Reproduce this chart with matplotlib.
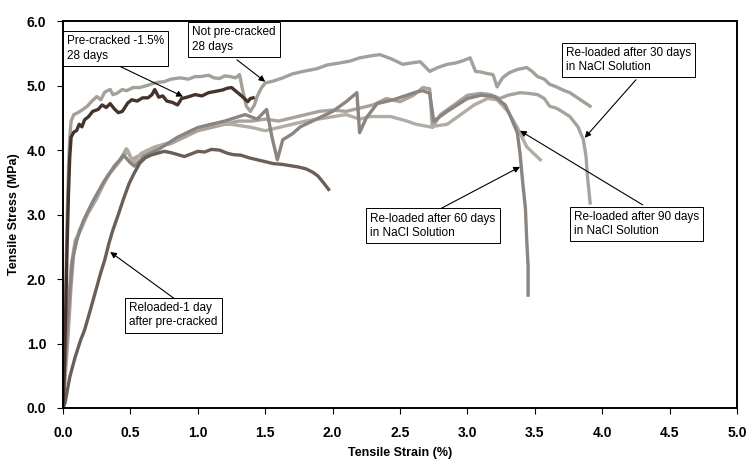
import matplotlib
matplotlib.use("Agg")
import matplotlib.pyplot as plt

plt.rcParams["font.family"] = ["Liberation Sans", "DejaVu Sans"]

# Pre-cracked to 1.5 %, tested at 28 days
pre_x = [0, 0.01, 0.02, 0.03, 0.04, 0.05, 0.06, 0.08, 0.10, 0.12, 0.14, 0.16, 0.19, 0.22, 0.26,
         0.29, 0.32, 0.35, 0.38, 0.41, 0.44, 0.48, 0.51, 0.55, 0.59, 0.63, 0.66, 0.68, 0.71, 0.74,
         0.77, 0.81, 0.85, 0.88, 0.92, 0.98, 1.03, 1.08, 1.13, 1.18, 1.22, 1.25, 1.29, 1.33,
         1.35, 1.37, 1.39, 1.41]
pre_y = [0, 0.6, 1.5, 2.5, 3.3, 3.9, 4.2, 4.28, 4.30, 4.40, 4.36, 4.47, 4.52, 4.60, 4.63,
         4.70, 4.66, 4.72, 4.64, 4.58, 4.60, 4.73, 4.78, 4.76, 4.81, 4.81, 4.86, 4.94, 4.82, 4.84,
         4.76, 4.74, 4.70, 4.80, 4.82, 4.86, 4.84, 4.89, 4.91, 4.93, 4.96, 4.97, 4.90, 4.83,
         4.79, 4.75, 4.80, 4.81]

# Not pre-cracked, 28 days
ncr_x = [0, 0.01, 0.02, 0.03, 0.04, 0.05, 0.06, 0.08, 0.11, 0.14, 0.18, 0.21, 0.25, 0.28, 0.31,
         0.35, 0.37, 0.40, 0.44, 0.47, 0.52, 0.57, 0.62, 0.65, 0.70, 0.75, 0.80, 0.87, 0.93, 0.98,
         1.02, 1.08, 1.12, 1.16, 1.20, 1.24, 1.28, 1.31, 1.33, 1.36, 1.39, 1.42, 1.44, 1.47, 1.50,
         1.56, 1.63, 1.70, 1.78, 1.88, 1.96, 2.05, 2.13, 2.20, 2.28, 2.35, 2.43, 2.52, 2.58, 2.65,
         2.72, 2.78, 2.85, 2.91, 2.96, 3.02, 3.06, 3.10, 3.14, 3.19, 3.22, 3.26, 3.31, 3.37, 3.44,
         3.48, 3.52, 3.57, 3.61, 3.66, 3.71, 3.76, 3.81, 3.86, 3.91]
ncr_y = [0, 0.8, 1.9, 2.9, 3.7, 4.2, 4.45, 4.55, 4.58, 4.62, 4.68, 4.75, 4.83, 4.78, 4.90,
         4.94, 4.86, 4.88, 4.94, 4.92, 4.97, 4.97, 5.00, 5.02, 5.05, 5.06, 5.10, 5.12, 5.10, 5.14,
         5.14, 5.16, 5.12, 5.11, 5.15, 5.14, 5.12, 5.17, 4.95, 4.68, 4.60, 4.70, 4.83, 4.96, 5.04,
         5.07, 5.12, 5.18, 5.22, 5.26, 5.32, 5.35, 5.38, 5.43, 5.46, 5.48, 5.42, 5.33, 5.35, 5.37,
         5.22, 5.28, 5.33, 5.35, 5.38, 5.43, 5.22, 5.21, 5.19, 5.17, 4.98, 5.12, 5.20, 5.25, 5.28,
         5.22, 5.14, 5.10, 5.02, 4.98, 4.93, 4.89, 4.82, 4.75, 4.68]

# Re-loaded 1 day after pre-cracking
d1_x = [0, 0.015, 0.05, 0.09, 0.13, 0.16, 0.20, 0.24, 0.28, 0.31, 0.34, 0.37, 0.41, 0.45, 0.49,
        0.53, 0.57, 0.61, 0.65, 0.70, 0.75, 0.80, 0.85, 0.90, 0.95, 1.00, 1.05, 1.10, 1.16, 1.22,
        1.26, 1.32, 1.38, 1.44, 1.50, 1.56, 1.62, 1.68, 1.74, 1.80, 1.85, 1.89, 1.93, 1.97]
d1_y = [0, 0.08, 0.48, 0.79, 1.05, 1.21, 1.50, 1.80, 2.10, 2.30, 2.55, 2.76, 3.00, 3.25, 3.48,
        3.65, 3.80, 3.88, 3.92, 3.95, 3.98, 3.96, 3.93, 3.90, 3.94, 3.98, 3.97, 4.01, 4.00, 3.95,
        3.93, 3.92, 3.88, 3.85, 3.82, 3.79, 3.78, 3.76, 3.74, 3.71, 3.66, 3.60, 3.50, 3.39]

# Re-loaded after 30 days in NaCl solution
d30_x = [0, 0.02, 0.04, 0.06, 0.08, 0.12, 0.18, 0.25, 0.33, 0.41, 0.47, 0.51, 0.55, 0.62, 0.70,
         0.80, 0.90, 1.00, 1.10, 1.20, 1.30, 1.40, 1.50, 1.60, 1.70, 1.80, 1.90, 2.00, 2.10, 2.20,
         2.30, 2.40, 2.50, 2.60, 2.67, 2.72, 2.74, 2.80, 2.90, 3.00, 3.10, 3.17, 3.24, 3.30, 3.39,
         3.45, 3.52, 3.57, 3.61, 3.66, 3.70, 3.76, 3.82, 3.86, 3.88, 3.89, 3.90, 3.91]
d30_y = [0, 0.6, 1.2, 1.9, 2.4, 2.75, 3.0, 3.25, 3.6, 3.8, 4.02, 3.85, 3.9, 3.95, 4.05,
         4.10, 4.20, 4.30, 4.35, 4.40, 4.45, 4.45, 4.48, 4.45, 4.50, 4.55, 4.60, 4.62, 4.60, 4.65,
         4.70, 4.80, 4.75, 4.85, 4.97, 4.95, 4.35, 4.55, 4.70, 4.85, 4.88, 4.86, 4.80, 4.85, 4.89,
         4.88, 4.86, 4.80, 4.68, 4.65, 4.60, 4.52, 4.36, 4.16, 3.90, 3.60, 3.40, 3.18]

# Re-loaded after 60 days in NaCl solution
d60_x = [0, 0.01, 0.03, 0.05, 0.07, 0.10, 0.15, 0.22, 0.30, 0.38, 0.45, 0.50, 0.53, 0.60, 0.70,
         0.85, 1.00, 1.10, 1.20, 1.35, 1.44, 1.51, 1.55, 1.59, 1.63, 1.70, 1.76, 1.90, 2.00, 2.10,
         2.18, 2.20, 2.25, 2.33, 2.45, 2.55, 2.62, 2.67, 2.72, 2.75, 2.85, 3.00, 3.10, 3.20, 3.28,
         3.32, 3.37, 3.39, 3.41, 3.43, 3.44, 3.45, 3.45]
d60_y = [0, 0.5, 1.2, 1.8, 2.3, 2.6, 2.9, 3.2, 3.5, 3.75, 3.92, 3.8, 3.75, 3.9, 4.0,
         4.2, 4.35, 4.4, 4.45, 4.55, 4.48, 4.63, 4.20, 3.85, 4.16, 4.25, 4.36, 4.50, 4.60, 4.75,
         4.89, 4.27, 4.50, 4.72, 4.78, 4.85, 4.90, 4.92, 4.88, 4.45, 4.60, 4.80, 4.85, 4.83, 4.70,
         4.52, 4.27, 3.95, 3.50, 3.10, 2.60, 2.20, 1.75]

# Re-loaded after 90 days in NaCl solution
d90_x = [0, 0.02, 0.04, 0.06, 0.09, 0.14, 0.20, 0.28, 0.35, 0.43, 0.48, 0.52, 0.58, 0.68, 0.80,
         0.95, 1.10, 1.25, 1.40, 1.50, 1.60, 1.70, 1.80, 1.95, 2.10, 2.20, 2.28, 2.43, 2.55, 2.62,
         2.72, 2.85, 2.95, 3.05, 3.15, 3.22, 3.30, 3.37, 3.44, 3.49, 3.54]
d90_y = [0, 0.8, 1.6, 2.2, 2.6, 2.8, 3.1, 3.4, 3.65, 3.85, 4.0, 3.8, 3.95, 4.05, 4.12,
         4.30, 4.40, 4.40, 4.35, 4.30, 4.35, 4.40, 4.45, 4.50, 4.55, 4.48, 4.52, 4.52, 4.45, 4.40,
         4.36, 4.40, 4.55, 4.70, 4.80, 4.78, 4.60, 4.35, 4.05, 3.95, 3.85]

x_ticks = [0, 0.5, 1.0, 1.5, 2.0, 2.5, 3.0, 3.5, 4.0, 4.5, 5.0]
y_ticks = [0, 1, 2, 3, 4, 5, 6]

fig = plt.figure(figsize=(7.54, 4.65), dpi=100)
ax = fig.add_axes([0.0836, 0.1226, 0.8939, 0.832])

lw = 2.4
ax.plot(d30_x, d30_y, color="#a8a29c", linewidth=lw)
ax.plot(d90_x, d90_y, color="#b2aca6", linewidth=lw)
ax.plot(d60_x, d60_y, color="#8b847f", linewidth=lw)
ax.plot(d1_x, d1_y, color="#6a5f58", linewidth=lw)
ax.plot(ncr_x, ncr_y, color="#a59f99", linewidth=lw)
ax.plot(pre_x, pre_y, color="#45342c", linewidth=lw)

ax.set_xlim(0, 5)
ax.set_ylim(0, 6)
ax.set_xticks(x_ticks)
ax.set_yticks(y_ticks)
ax.set_xticklabels(["%.1f" % v for v in x_ticks], fontsize=10, fontweight="bold")
ax.set_yticklabels(["%.1f" % v for v in y_ticks], fontsize=10, fontweight="bold")
ax.tick_params(axis="x", direction="out", length=4, width=0.8, pad=9)
ax.tick_params(axis="y", direction="out", length=4, width=0.8, pad=8)
for s in ax.spines.values():
    s.set_linewidth(1.4)

ax.set_xlabel("Tensile Strain (%)", fontsize=9, fontweight="bold", labelpad=5)
ax.set_ylabel("Tensile Stress (MPa)", fontsize=9, fontweight="bold", labelpad=5)

box = dict(boxstyle="square,pad=0.35", facecolor="white", edgecolor="black", linewidth=0.7)
arrow = dict(arrowstyle="-|>", color="black", linewidth=0.8, mutation_scale=9, shrinkA=0, shrinkB=0)

labels = [
    ("Pre-cracked -1.5%\n28 days", (0.03, 5.78), (0.42, 5.30), (0.89, 4.83)),
    ("Not pre-cracked\n28 days", (0.96, 5.92), (1.29, 5.40), (1.50, 5.06)),
    ("Re-loaded after 30 days\nin NaCl Solution", (3.73, 5.60), (4.25, 5.09), (3.87, 4.19)),
    ("Re-loaded after 60 days\nin NaCl Solution", (2.28, 3.03), (2.80, 3.09), (3.39, 3.74)),
    ("Re-loaded after 90 days\nin NaCl Solution", (3.79, 3.06), (4.30, 3.15), (3.39, 4.30)),
    ("Reloaded-1 day\nafter pre-cracked", (0.49, 1.64), (0.83, 1.69), (0.35, 2.42)),
]
for text, pos, tail, head in labels:
    ax.annotate("", xy=head, xytext=tail, arrowprops=arrow, zorder=4)
    ax.text(pos[0], pos[1], text, fontsize=8.5, ha="left", va="top", linespacing=1.25,
            bbox=box, zorder=5)

fig.savefig("out.png", dpi=100)
